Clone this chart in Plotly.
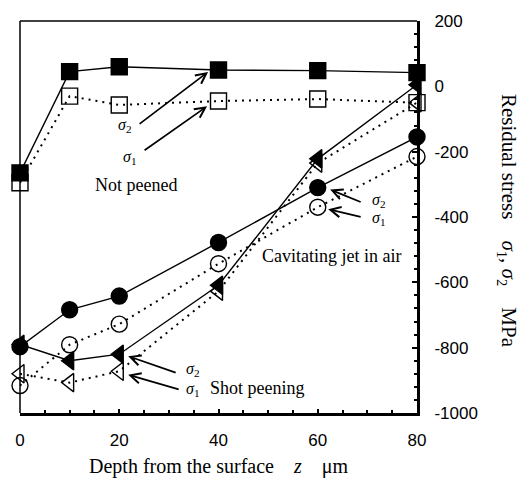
import plotly.graph_objects as go

depth = [0, 10, 20, 40, 60, 80]

np_s2 = [-265, 45, 60, 50, 48, 42]
np_s1 = [-295, -30, -57, -45, -39, -50]
cav_s2 = [-797, -684, -642, -478, -310, -155]
cav_s1 = [-916, -791, -728, -543, -370, -215]
shot_s2 = [-790, -840, -820, -609, -222, 5]
shot_s1 = [-880, -907, -872, -627, -235, -50]

x_ticks = [0, 20, 40, 60, 80]
y_ticks = [-1000, -800, -600, -400, -200, 0, 200]

SERIF = "Liberation Serif"
SANS = "Liberation Sans"
dotted = "2px,5px"

fig = go.Figure()

def add(y, symbol, dash, size):
    fig.add_trace(go.Scatter(
        x=depth, y=y, mode="lines+markers", cliponaxis=False,
        line=dict(color="black", width=1.4 if dash == "solid" else 2, dash=dash),
        marker=dict(symbol=symbol, size=size, color="black",
                    line=dict(color="black", width=1.4)),
        showlegend=False))

add(np_s1, "square-open", dotted, 16)
add(np_s2, "square", "solid", 16)
add(cav_s1, "circle-open", dotted, 16)
add(cav_s2, "circle", "solid", 16)
add(shot_s1, "triangle-left-open", dotted, 16)
add(shot_s2, "triangle-left", "solid", 16)

ann = []

def arrow(x, y, ax, ay):
    ann.append(dict(x=x, y=y, xref="x", yref="y", ax=ax, ay=ay, text="",
                    showarrow=True, arrowhead=5, arrowsize=1.2, arrowwidth=1.7,
                    arrowcolor="black", standoff=0, startstandoff=0))

def label(x, y, text, size=18, xanchor="center"):
    ann.append(dict(x=x, y=y, xref="x", yref="y", text=text, showarrow=False,
                    xanchor=xanchor, yanchor="middle",
                    font=dict(family=SERIF, size=size, color="black")))

s1 = "<i>σ</i><sub>1</sub>"
s2 = "<i>σ</i><sub>2</sub>"

arrow(37.9, 44, -70, 53)
arrow(37.7, -61, -64, 45)
label(21.0, -120, s2, 16)
label(22.0, -217, s1, 16)
label(23.4, -301, "Not peened")

arrow(62.5, -316, 32, 13)
arrow(62.1, -376, 34, 8)
label(72.3, -351, s2, 16)
label(72.3, -405, s1, 16)
label(62.7, -520, "Cavitating jet in air")

arrow(21.8, -826, 49, 17)
arrow(21.8, -883, 52, 15)
label(34.8, -867, s2, 16)
label(34.8, -927, s1, 16)
label(47.8, -922, "Shot peening")

ann.append(dict(x=0.5, y=-0.1375, xref="paper", yref="paper", showarrow=False,
                text="Depth from the surface &nbsp;&nbsp; <i>z</i> &nbsp;&nbsp; μm",
                xanchor="center", yanchor="middle",
                font=dict(family=SERIF, size=20, color="black")))
ann.append(dict(x=1.229, y=0.49, xref="paper", yref="paper", showarrow=False,
                text="Residual stress &nbsp;&nbsp; <i>σ</i><sub>1</sub>, <i>σ</i><sub>2</sub> &nbsp;&nbsp; MPa",
                textangle=90, xanchor="center", yanchor="middle",
                font=dict(family=SERIF, size=21, color="black")))

fig.update_layout(
    width=528, height=483,
    margin=dict(l=20, r=111, t=13, b=70),
    paper_bgcolor="white", plot_bgcolor="white",
    annotations=ann,
    shapes=[
        dict(type="line", xref="paper", yref="paper", x0=0, x1=0, y0=0, y1=1,
             line=dict(color="black", width=1.5)),
        dict(type="line", xref="paper", yref="paper", x0=0, x1=1, y0=1, y1=1,
             line=dict(color="black", width=1.5)),
    ],
    xaxis=dict(range=[0, 80], tickvals=x_ticks, ticktext=[str(v) for v in x_ticks],
               showgrid=False, zeroline=False, showline=True, linecolor="black",
               linewidth=2.5, ticks="inside", ticklen=4, tickwidth=2, tickcolor="black",
               minor=dict(dtick=5, ticks="inside", ticklen=3, tickwidth=2, tickcolor="black"),
               tickfont=dict(family=SANS, size=17, color="black"),
               ticklabelstandoff=10),
    yaxis=dict(range=[-1000, 200], side="right", tickvals=y_ticks,
               ticktext=[str(v) for v in y_ticks],
               showgrid=False, zeroline=False, showline=True, linecolor="black",
               linewidth=3, ticks="inside", ticklen=5, tickwidth=2, tickcolor="black",
               minor=dict(dtick=40, ticks="inside", ticklen=3, tickwidth=2, tickcolor="black"),
               tickfont=dict(family=SANS, size=17, color="black"),
               ticklabelstandoff=11),
)

fig.write_html("out.html")
